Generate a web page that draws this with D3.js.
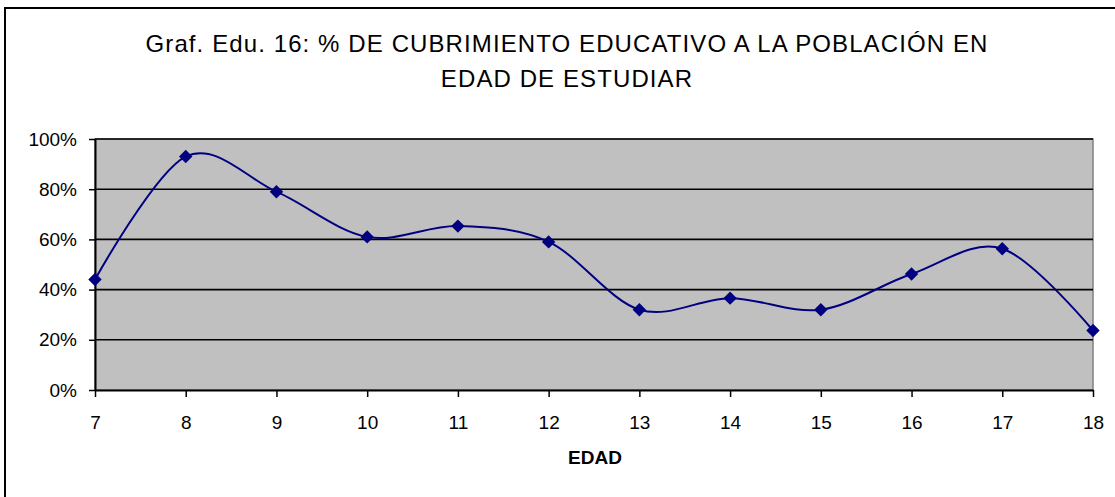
<!DOCTYPE html>
<html>
<head>
<meta charset="utf-8">
<script src="https://cdn.jsdelivr.net/npm/d3@7"></script>
<style>
    body { margin: 0; background: #fff; }
    svg { display: block; font-family: "Liberation Sans", Arial, sans-serif; }
</style>
</head>
<body>
<svg id="chart" width="1115" height="497"></svg>
<script>
// Graf. Edu. 16 - cubrimiento educativo por edad

const titleLines = [
    "Graf. Edu. 16: % DE CUBRIMIENTO EDUCATIVO A LA POBLACIÓN EN",
    "EDAD DE ESTUDIAR"
];
const xTitle = "EDAD";

const ages = [7, 8, 9, 10, 11, 12, 13, 14, 15, 16, 17, 18];
const coverage = [0.44, 0.93, 0.79, 0.61, 0.653, 0.59, 0.32, 0.366, 0.32, 0.462, 0.563, 0.237];
const yTicks = [0, 0.2, 0.4, 0.6, 0.8, 1];

const svg = d3.select("#chart");

const plot = { left: 95, right: 1093, top: 139, bottom: 390 };

/* ------------------------------------------------------------------
   Frame & title
------------------------------------------------------------------ */

svg.append("rect")
    .attr("x", 5)
    .attr("y", 8)
    .attr("width", 1300)
    .attr("height", 700)
    .attr("fill", "#fff")
    .attr("stroke", "#000")
    .attr("stroke-width", 2);

const title = svg.append("text")
    .attr("text-anchor", "middle")
    .attr("font-size", "24px")
    .attr("letter-spacing", "1.1px")
    .attr("fill", "#000");

title.selectAll("tspan")
    .data(titleLines)
    .enter()
    .append("tspan")
    .attr("x", 567)
    .attr("y", (d, i) => 52 + i * 34.5)
    .text(d => d);

/* ------------------------------------------------------------------
   Scales
------------------------------------------------------------------ */

const x = d3.scalePoint()
    .domain(ages)
    .range([plot.left, plot.right]);

const y = d3.scaleLinear()
    .domain([0, 1])
    .range([plot.bottom, plot.top]);

/* ------------------------------------------------------------------
   Plot area & grid
------------------------------------------------------------------ */

svg.append("rect")
    .attr("x", plot.left)
    .attr("y", plot.top)
    .attr("width", plot.right - plot.left)
    .attr("height", plot.bottom - plot.top)
    .attr("fill", "#c0c0c0")
    .attr("stroke", "#808080")
    .attr("stroke-width", 1.5);

svg.append("g")
    .selectAll("line")
    .data(yTicks.filter(d => d > 0))
    .enter()
    .append("line")
    .attr("x1", plot.left)
    .attr("x2", plot.right)
    .attr("y1", d => y(d))
    .attr("y2", d => y(d))
    .attr("stroke", "#000")
    .attr("stroke-width", 1.6);

/* ------------------------------------------------------------------
   Axes
------------------------------------------------------------------ */

const yAxis = svg.append("g")
    .attr("transform", `translate(${plot.left},0)`)
    .call(d3.axisLeft(y)
        .tickValues(yTicks)
        .tickFormat(d3.format(".0%"))
        .tickSize(6)
        .tickSizeOuter(0)
        .tickPadding(12));

const xAxis = svg.append("g")
    .attr("transform", `translate(0,${plot.bottom})`)
    .call(d3.axisBottom(x)
        .tickSize(7)
        .tickSizeOuter(0)
        .tickPadding(19));

[yAxis, xAxis].forEach(ax => {
    ax.select(".domain").attr("stroke", "#000").attr("stroke-width", 2);
    ax.selectAll(".tick line").attr("stroke", "#000").attr("stroke-width", 1.5);
    ax.selectAll(".tick text")
        .attr("font-family", "Liberation Sans, Arial, sans-serif")
        .attr("font-size", "19px")
        .attr("fill", "#000");
});

svg.append("text")
    .attr("x", 595)
    .attr("y", 464)
    .attr("text-anchor", "middle")
    .attr("font-size", "19px")
    .attr("font-weight", "bold")
    .text(xTitle);

/* ------------------------------------------------------------------
   Series
------------------------------------------------------------------ */

const line = d3.line()
    .x((d, i) => x(ages[i]))
    .y(d => y(d))
    .curve(d3.curveCardinal.tension(0));

svg.append("path")
    .datum(coverage)
    .attr("fill", "none")
    .attr("stroke", "#000080")
    .attr("stroke-width", 2)
    .attr("d", line);

svg.append("g")
    .selectAll("path")
    .data(coverage)
    .enter()
    .append("path")
    .attr("transform", (d, i) => `translate(${x(ages[i])},${y(d)}) rotate(45)`)
    .attr("d", d3.symbol().type(d3.symbolSquare).size(90))
    .attr("fill", "#000080");
</script>
</body>
</html>
